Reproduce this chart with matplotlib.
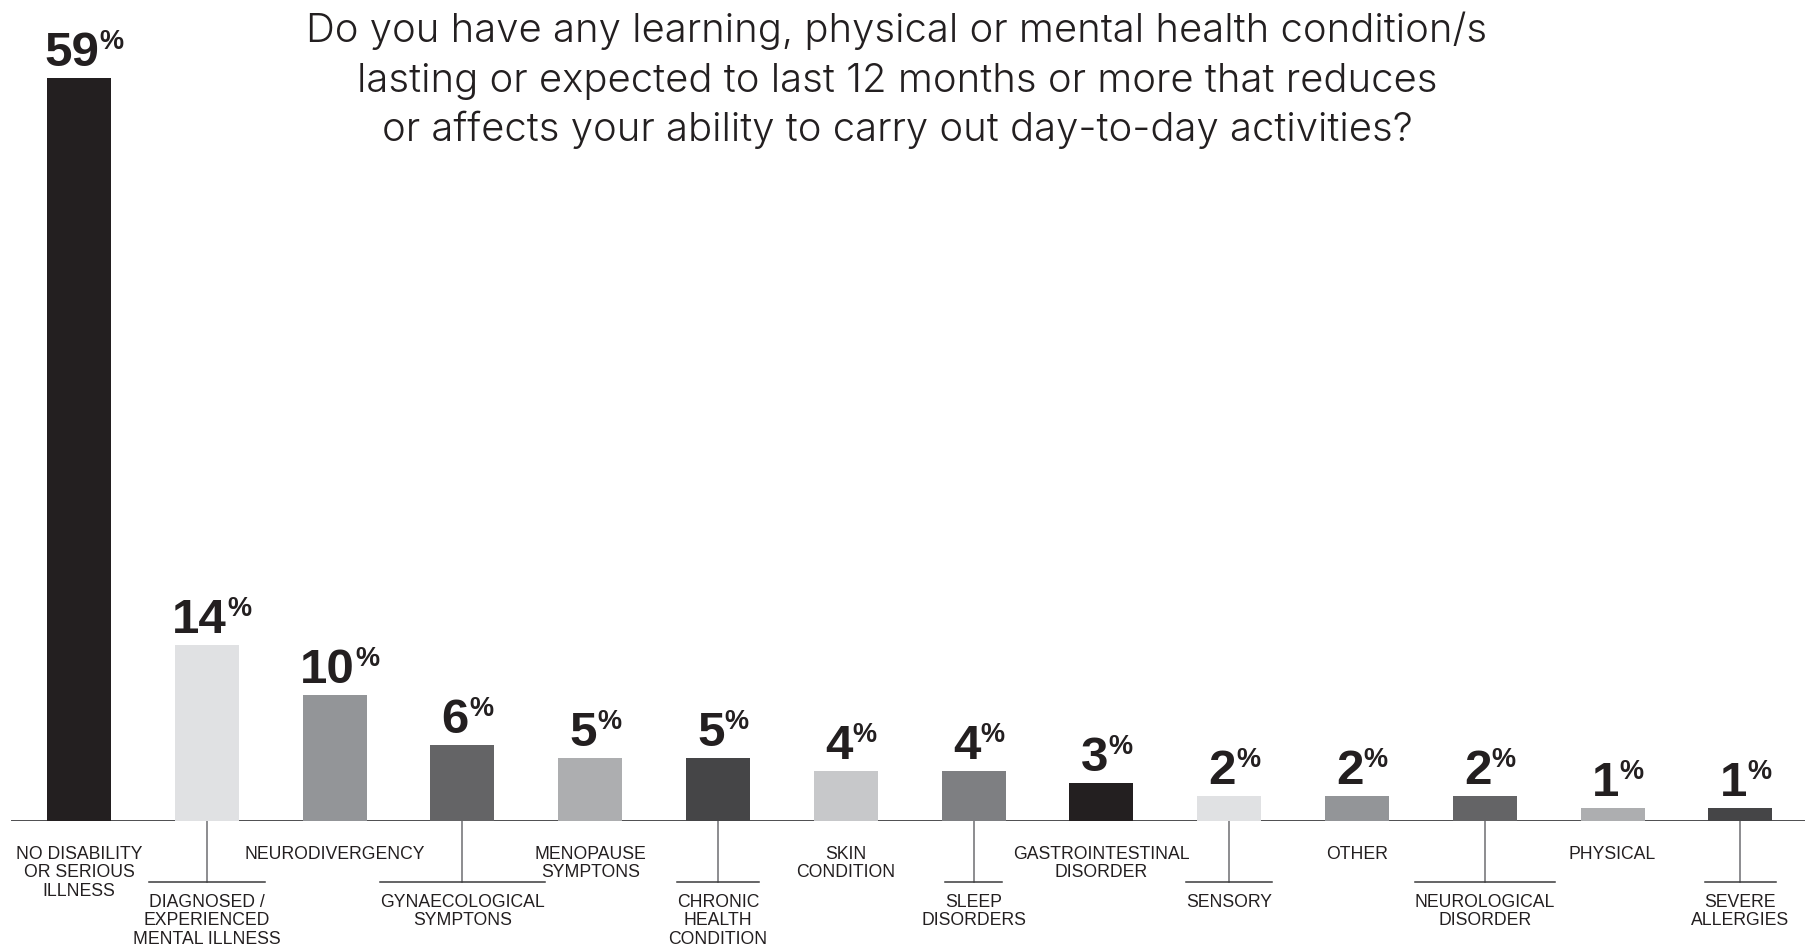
import matplotlib
matplotlib.use("Agg")
import matplotlib.pyplot as plt
import matplotlib.transforms as mtransforms

categories = [
    "NO DISABILITY\nOR SERIOUS\nILLNESS",
    "DIAGNOSED /\nEXPERIENCED\nMENTAL ILLNESS",
    "NEURODIVERGENCY",
    "GYNAECOLOGICAL\nSYMPTONS",
    "MENOPAUSE\nSYMPTONS",
    "CHRONIC\nHEALTH\nCONDITION",
    "SKIN\nCONDITION",
    "SLEEP\nDISORDERS",
    "GASTROINTESTINAL\nDISORDER",
    "SENSORY",
    "OTHER",
    "NEUROLOGICAL\nDISORDER",
    "PHYSICAL",
    "SEVERE\nALLERGIES",
]
values = [59, 14, 10, 6, 5, 5, 4, 4, 3, 2, 2, 2, 1, 1]
palette = ["#231f20", "#e0e1e3", "#939598", "#646466",
           "#adaeb0", "#454547", "#c7c8ca", "#7e7f82"]
title_lines = [
    "Do you have any learning, physical or mental health condition/s",
    "lasting or expected to last 12 months or more that reduces",
    "or affects your ability to carry out day-to-day activities?",
]

W, H, DPI = 1805, 944, 100
INK = "#231f20"
LABEL_FONT = "Liberation Sans"

fig = plt.figure(figsize=(W / DPI, H / DPI), dpi=DPI)
fig.patch.set_facecolor("white")

# geometry in pixels
base_px = 821          # baseline, measured from top
px_per_pct = 12.6
first_center = 79
step = 127.8

ax = fig.add_axes([0, (H - base_px) / H, 1, base_px / H])
ax.set_xlim(-first_center / step, (W - first_center) / step)
ax.set_ylim(0, base_px / px_per_pct)
ax.axis("off")

xs = list(range(len(values)))
colors = [palette[i % len(palette)] for i in xs]
ax.bar(xs, values, width=64 / step, color=colors, zorder=3)

# baseline rule
ax.axhline(0, xmin=12 / W, xmax=1, color="#4d4d4f", lw=1.4, zorder=2)

renderer = fig.canvas.get_renderer()

def text_width_px(s, **kw):
    t = fig.text(0, 0, s, **kw)
    w = t.get_window_extent(renderer=renderer).width
    t.remove()
    return w

# value labels: big bold number with a small raised percent sign
num_kw = dict(fontsize=35.5, fontweight="bold", family=LABEL_FONT, color=INK)
pct_kw = dict(fontsize=19.5, fontweight="bold", family=LABEL_FONT, color=INK)
cap_px = 35
gap_px = 12
for x, v in zip(xs, values):
    s = f"{v}"
    wn = text_width_px(s, **num_kw)
    wp = text_width_px("%", **pct_kw)
    left = -(wn + wp) / 2 + 5
    ax.annotate(s, xy=(x, v), xytext=(left, gap_px), textcoords="offset pixels",
                ha="left", va="baseline", annotation_clip=False, **num_kw)
    ax.annotate("%", xy=(x, v), xytext=(left + wn, gap_px + cap_px + 2),
                textcoords="offset pixels", ha="left", va="top",
                annotation_clip=False, **pct_kw)

# category labels, alternating rows; lower row hangs from a leader line
trans = mtransforms.blended_transform_factory(ax.transData, fig.transFigure)
lab_kw = dict(fontsize=12.7, family=LABEL_FONT, color=INK, linespacing=1.1)
upper_top = 846
lower_top = 894
rule_y = 882
for x, lab in zip(xs, categories):
    if x % 2 == 0:
        fig.text(x, (H - upper_top) / H, lab, transform=trans,
                 ha="center", va="top", multialignment="center", **lab_kw)
    else:
        ax.plot([x, x], [0, -(rule_y - base_px) / px_per_pct],
                color="#6d6e71", lw=1.1, clip_on=False, zorder=2)
        first = lab.split("\n")[0]
        half = text_width_px(first, **lab_kw) / 2 / step
        ax.plot([x - half, x + half], [-(rule_y - base_px) / px_per_pct] * 2,
                color="#3a3a3c", lw=1.1, clip_on=False, zorder=2)
        fig.text(x, (H - lower_top) / H, lab, transform=trans,
                 ha="center", va="top", multialignment="center", **lab_kw)

# question heading
title_kw = dict(fontsize=28.8, family="Inter", fontweight=350, color=INK,
                ha="center", va="baseline")
for k, line in enumerate(title_lines):
    fig.text(897 / W, (H - (42 + 49.5 * k)) / H, line, **title_kw)

fig.savefig("out.png", dpi=DPI, facecolor="white")
